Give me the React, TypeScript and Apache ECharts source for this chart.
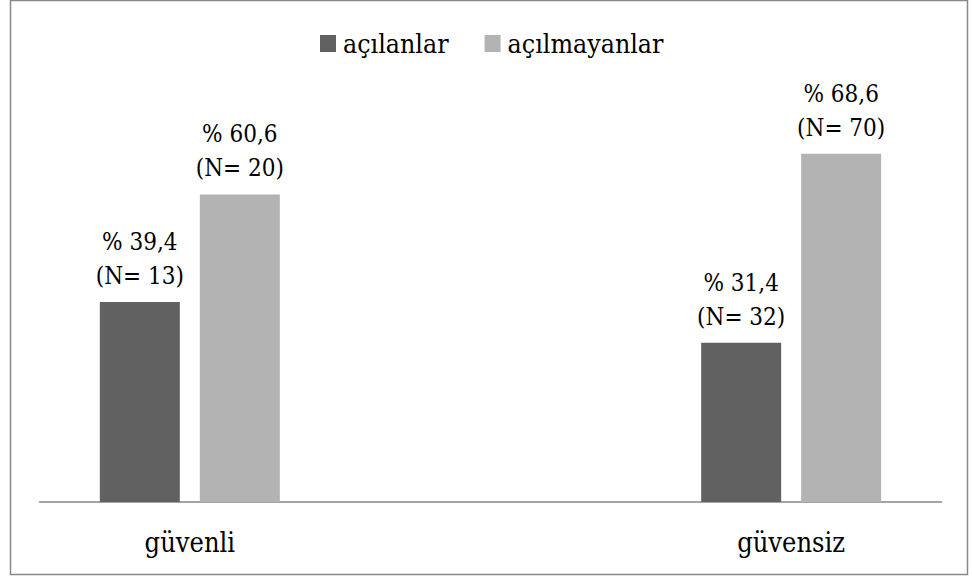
import React, { useEffect, useRef } from "react";
import * as echarts from "echarts";

const categories = ["güvenli", "", "güvensiz"];
const seriesNames = ["açılanlar", "açılmayanlar"];
const openedPct = [39.4, null, 31.4];
const openedN = [13, null, 32];
const notOpenedPct = [60.6, null, 68.6];
const notOpenedN = [20, null, 70];
const colors = ["#616161", "#b3b3b3"];

const FONT = "DejaVu Serif Condensed";

function fmt(v: number) {
  return v.toFixed(1).replace(".", ",");
}

export default function App() {
  const ref = useRef<HTMLDivElement>(null);
  useEffect(() => {
    if (!ref.current) return;
    const chart = echarts.init(ref.current, undefined, { renderer: "svg" });
    const mkSeries = (name: string, pct: (number | null)[], ns: (number | null)[], color: string) => ({
      name,
      type: "bar",
      data: pct,
      barWidth: 80,
      barGap: "25%",
      itemStyle: { color },
      label: {
        show: true,
        position: "top",
        distance: 9,
        color: "#000",
        fontFamily: FONT,
        fontSize: 24,
        lineHeight: 34,
        formatter: (p: any) => (p.value == null ? "" : `% ${fmt(p.value)}\n(N= ${ns[p.dataIndex]})`),
      },
    });
    chart.setOption({
      animation: false,
      backgroundColor: "#ffffff",
      legend: {
        data: seriesNames,
        left: 320,
        top: 30,
        padding: 0,
        icon: "rect",
        itemWidth: 16,
        itemHeight: 17,
        itemGap: 36,
        textStyle: { fontFamily: FONT, fontSize: 26.5, color: "#000", padding: [0, 0, 0, 2] },
      },
      grid: { left: 39.5, right: 30.5, top: 96, bottom: 75, containLabel: false },
      xAxis: {
        type: "category",
        data: categories,
        boundaryGap: true,
        axisLine: { show: true, lineStyle: { color: "#868686", width: 1.5 } },
        axisTick: { show: false },
        axisLabel: { color: "#000", fontFamily: FONT, fontSize: 27, margin: 27, interval: 0 },
      },
      yAxis: {
        type: "value",
        min: 0,
        max: 80,
        show: false,
        splitLine: { show: false },
      },
      graphic: [
        {
          type: "rect",
          shape: { x: 10.5, y: 0.5, width: 957, height: 574 },
          style: { fill: "none", stroke: "#888888", lineWidth: 1.5 },
          silent: true,
        },
      ],
      series: [
        mkSeries(seriesNames[0], openedPct, openedN, colors[0]),
        mkSeries(seriesNames[1], notOpenedPct, notOpenedN, colors[1]),
      ],
    });
    return () => chart.dispose();
  }, []);
  return (
    <div
      ref={ref}
      style={{ position: "fixed", left: 0, top: 0, width: 972, height: 577 }}
    />
  );
}
